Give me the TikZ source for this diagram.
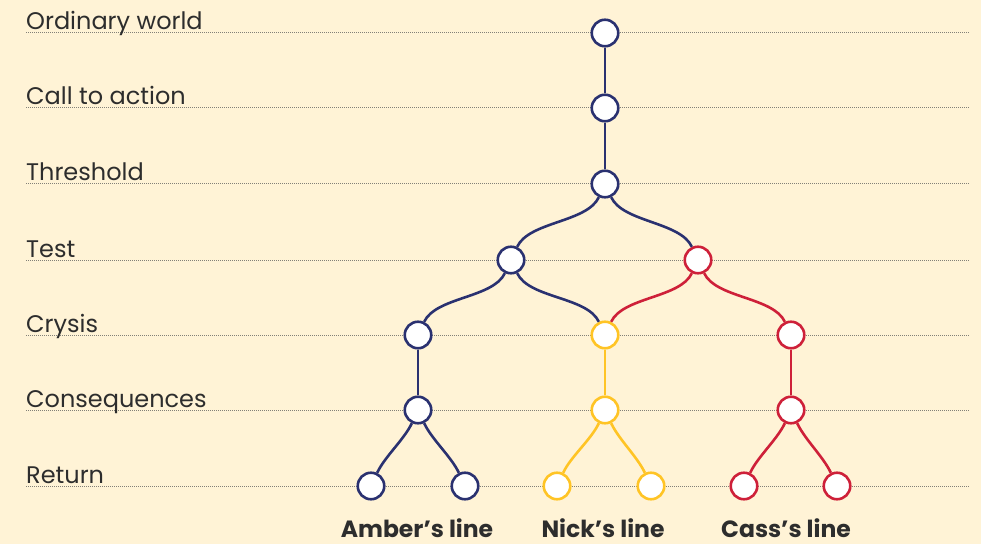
\documentclass[tikz,border=0pt]{standalone}
\usepackage{fontspec}
\setmainfont{Poppins}
\definecolor{bg}{RGB}{255,243,214}
\definecolor{navy}{RGB}{42,49,112}
\definecolor{sun}{RGB}{255,196,37}
\definecolor{ruby}{RGB}{206,32,57}
\definecolor{ink}{RGB}{45,45,45}
\definecolor{guidegray}{RGB}{130,128,120}
\begin{document}
\begin{tikzpicture}[x=1pt,y=1pt,
  guide/.style={guidegray, line width=1pt, dash pattern=on 1pt off 1pt},
  stagelabel/.style={anchor=base west, inner sep=0pt, text=ink, font=\fontsize{24}{28}\selectfont},
  linelabel/.style={anchor=base, inner sep=0pt, text=ink, font=\fontsize{23.5}{28}\selectfont\bfseries},
  beat/.style={circle, draw=#1, fill=white, line width=2.6pt, minimum size=26.5pt, inner sep=0pt},
  link/.style={draw=#1, line width=2.6pt},
  fork/.style={out=-115, in=65, looseness=0.75},
  forkr/.style={out=-65, in=115, looseness=0.75}]
  \fill[bg] (0,0) rectangle (981,544);
  \useasboundingbox (0,0) rectangle (981,544);

  % stage guides and names
  \foreach \lab/\yy/\nm in {Ordinary world/511/ord, Call to action/436/call, Threshold/360/thr,
      Test/284/test, Crysis/209/cry, Consequences/134/con, Return/58/ret} {
    \coordinate (g-\nm-a) at (26,\yy);
    \coordinate (g-\nm-b) at (970,\yy);
    \draw[guide] (g-\nm-a) -- (g-\nm-b);
    \node[stagelabel] (lbl-\nm) at (26,\yy+3) {\lab};
  }

  % story beats
  \node[beat=navy] (o1) at (605,511) {};
  \node[beat=navy] (o2) at (605,436) {};
  \node[beat=navy] (o3) at (605,360) {};
  \node[beat=navy] (t1) at (511,284) {};
  \node[beat=ruby] (t2) at (698,284) {};
  \node[beat=navy] (c1) at (418,209) {};
  \node[beat=sun]  (c2) at (605,209) {};
  \node[beat=ruby] (c3) at (791,209) {};
  \node[beat=navy] (q1) at (418,134) {};
  \node[beat=sun]  (q2) at (605,134) {};
  \node[beat=ruby] (q3) at (791,134) {};
  \node[beat=navy] (r1) at (371,58) {};
  \node[beat=navy] (r2) at (465,58) {};
  \node[beat=sun]  (r3) at (557,58) {};
  \node[beat=sun]  (r4) at (651,58) {};
  \node[beat=ruby] (r5) at (744,58) {};
  \node[beat=ruby] (r6) at (837,58) {};

  % connections
  \path[link=navy] (o1) -- (o2);
  \path[link=navy] (o2) -- (o3);
  \path[link=navy] (o3) to[fork] (t1);
  \path[link=navy] (o3) to[forkr] (t2);
  \path[link=navy] (t1) to[fork] (c1);
  \path[link=navy] (t1) to[forkr] (c2);
  \path[link=ruby] (t2) to[fork] (c2);
  \path[link=ruby] (t2) to[forkr] (c3);
  \path[link=navy] (c1) -- (q1);
  \path[link=sun]  (c2) -- (q2);
  \path[link=ruby] (c3) -- (q3);
  \path[link=navy] (q1) to[fork] (r1);
  \path[link=navy] (q1) to[forkr] (r2);
  \path[link=sun]  (q2) to[fork] (r3);
  \path[link=sun]  (q2) to[forkr] (r4);
  \path[link=ruby] (q3) to[fork] (r5);
  \path[link=ruby] (q3) to[forkr] (r6);

  % line names
  \node[linelabel] (amber) at (417,6.5) {Amber’s line};
  \node[linelabel] (nick) at (603,6.5) {Nick’s line};
  \node[linelabel] (cass) at (786,6.5) {Cass’s line};
\end{tikzpicture}
\end{document}
